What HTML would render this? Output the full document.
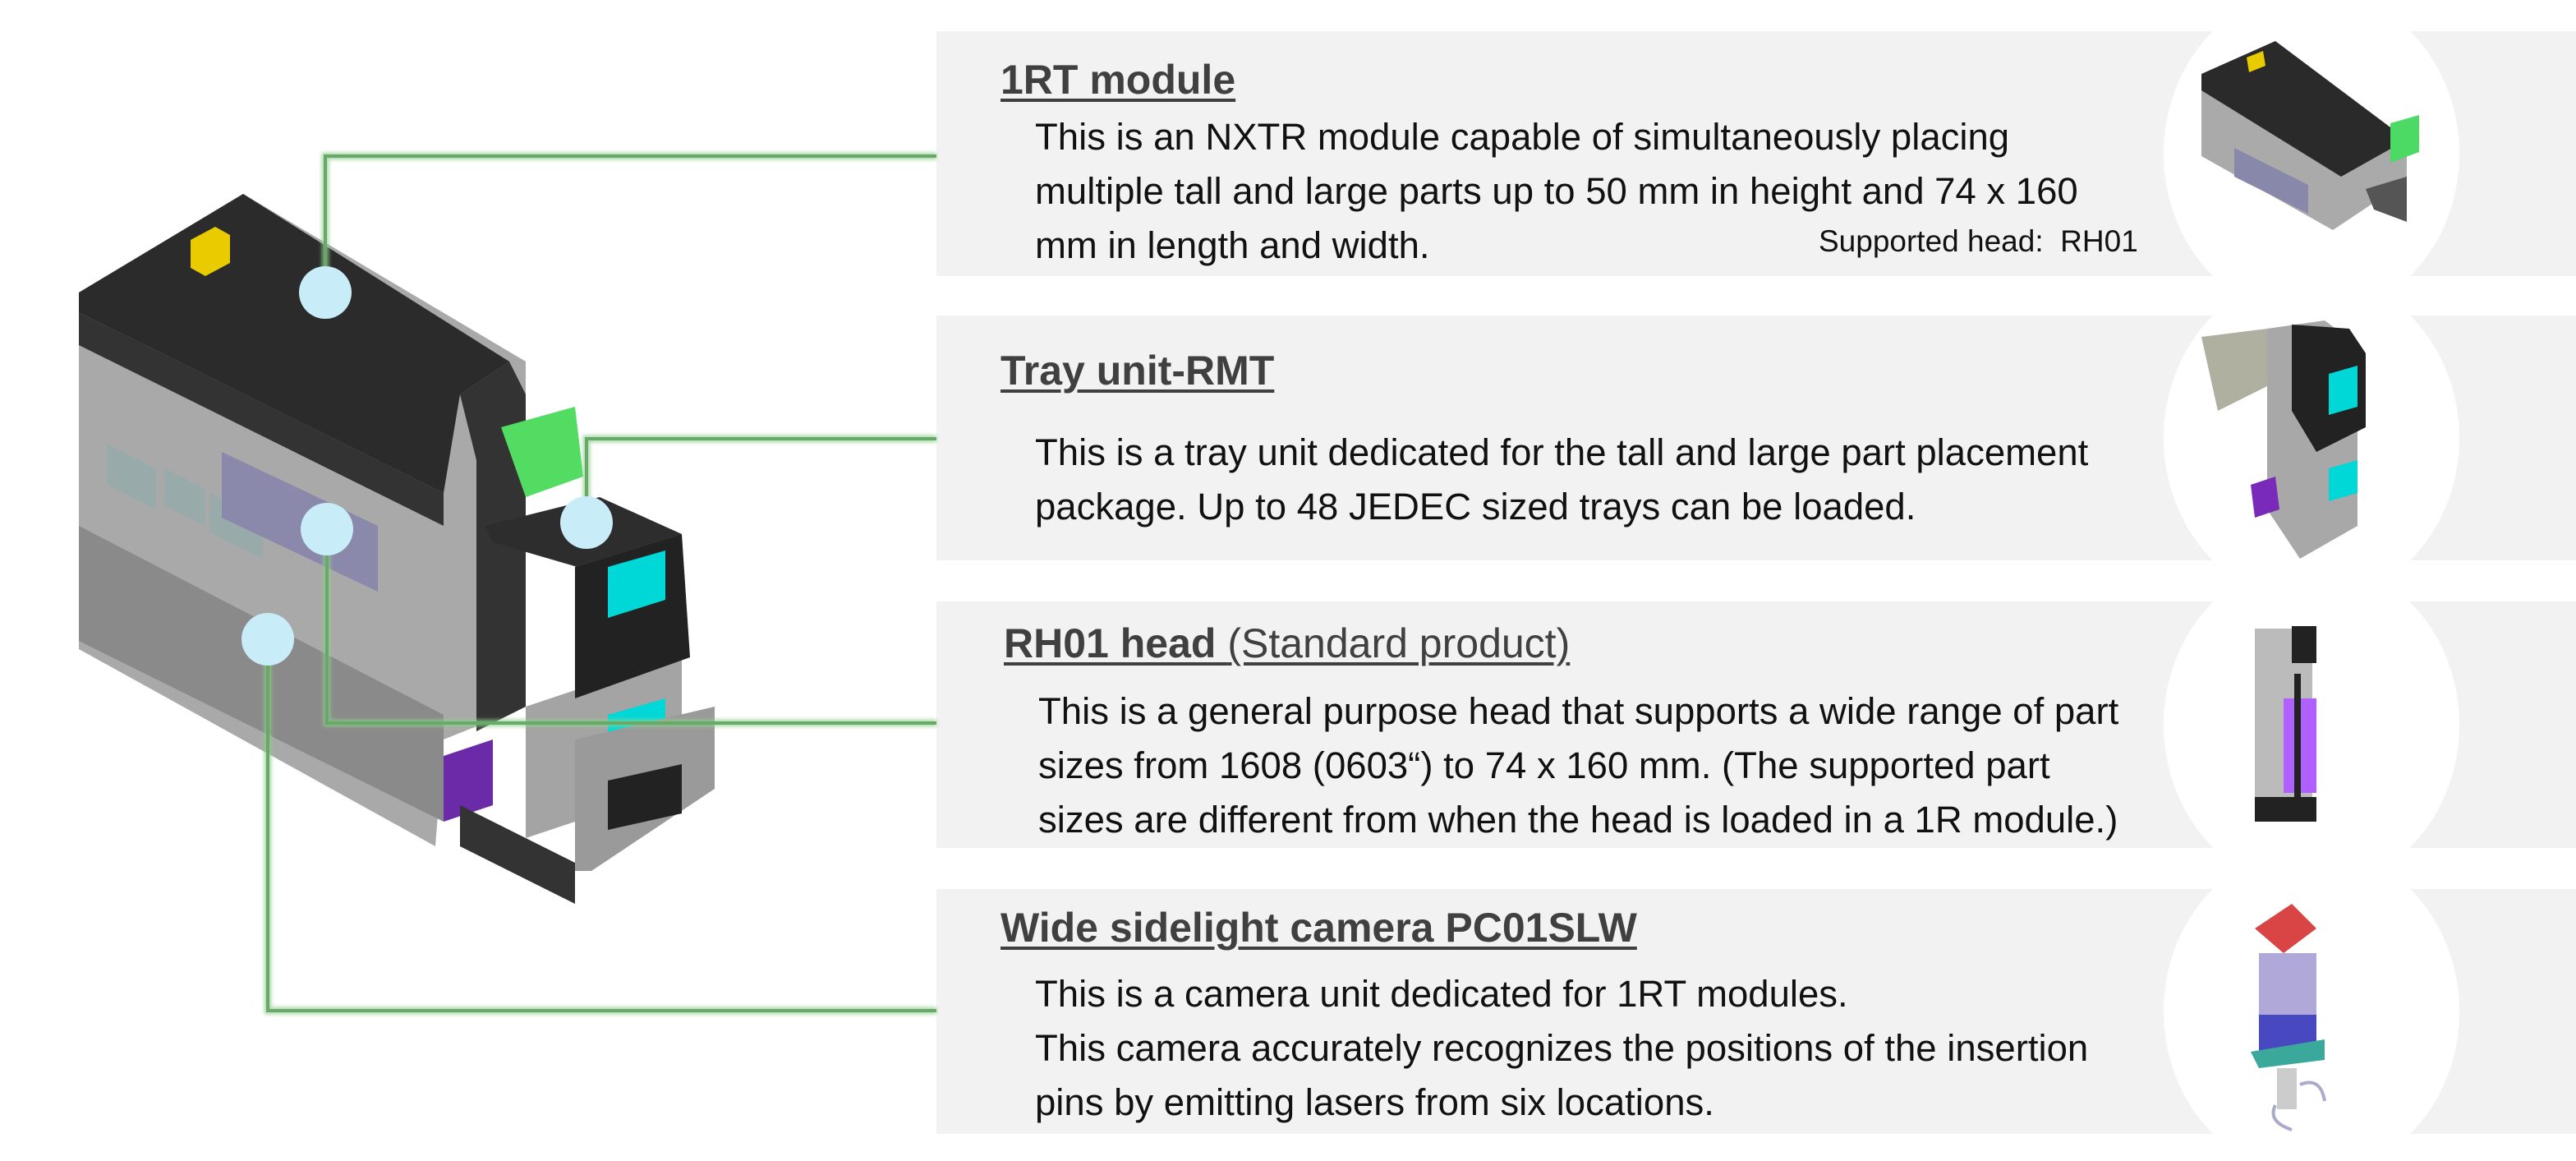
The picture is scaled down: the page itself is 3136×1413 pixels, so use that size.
<!DOCTYPE html>
<html><head><meta charset="utf-8"><style>
body{margin:0;width:3136px;height:1413px;background:#fff;position:relative;overflow:hidden;font-family:"Liberation Sans",Arial,sans-serif;}
.t{position:absolute;white-space:nowrap;}
.h{font-size:50px;font-weight:bold;color:#404040;text-decoration:underline;text-decoration-thickness:4px;text-underline-offset:6px;}
.h span{font-weight:normal;}
.b{font-size:45.5px;color:#111;line-height:66px;}
</style></head><body>
<svg width="3136" height="1413" viewBox="0 0 3136 1413" style="position:absolute;left:0;top:0">
<defs>
<filter id="gl" x="-5%" y="-5%" width="110%" height="110%"><feGaussianBlur stdDeviation="2"/></filter>
<clipPath id="c1"><rect x="1140" y="38" width="1996" height="298"/></clipPath>
<clipPath id="c2"><rect x="1140" y="384" width="1996" height="298"/></clipPath>
<clipPath id="c3"><rect x="1140" y="732" width="1996" height="300"/></clipPath>
<clipPath id="c4"><rect x="1140" y="1082" width="1996" height="298"/></clipPath>
</defs>
<rect x="1140" y="38" width="1996" height="298" fill="#f2f2f2"/>
<rect x="1140" y="384" width="1996" height="298" fill="#f2f2f2"/>
<rect x="1140" y="732" width="1996" height="300" fill="#f2f2f2"/>
<rect x="1140" y="1082" width="1996" height="298" fill="#f2f2f2"/>
<g fill="#fff">
<ellipse cx="2814" cy="187" rx="180" ry="200" clip-path="url(#c1)"/>
<ellipse cx="2814" cy="533" rx="180" ry="200" clip-path="url(#c2)"/>
<ellipse cx="2814" cy="882" rx="180" ry="200" clip-path="url(#c3)"/>
<ellipse cx="2814" cy="1231" rx="180" ry="200" clip-path="url(#c4)"/>
</g>
<polygon points="2680,90 2770,50 2930,170 2930,220 2840,280 2680,190" fill="#aaa"/>
<polygon points="2680,90 2770,50 2930,170 2850,215 2680,110" fill="#2a2a2a"/>
<polygon points="2735,70 2755,62 2758,80 2738,88" fill="#e8cc00"/>
<polygon points="2910,150 2945,140 2945,185 2910,198" fill="#4cd964"/>
<polygon points="2720,180 2810,225 2810,260 2720,215" fill="#8888aa"/>
<polygon points="2880,230 2930,215 2930,270 2890,255" fill="#555"/>
<polygon points="2680,410 2760,400 2760,470 2700,500" fill="#b0b0a0"/>
<polygon points="2760,400 2830,390 2870,420 2870,640 2800,680 2760,620" fill="#a8a8a8"/>
<polygon points="2790,395 2860,400 2880,430 2880,520 2820,550 2790,500" fill="#222"/>
<polygon points="2835,455 2870,445 2870,495 2835,505" fill="#00d8d8"/>
<polygon points="2835,570 2870,560 2870,600 2835,610" fill="#00d8d8"/>
<polygon points="2740,590 2770,580 2775,620 2745,630" fill="#7a2ab8"/>
<rect x="2745" y="765" width="70" height="235" fill="#bbb"/>
<rect x="2790" y="762" width="30" height="45" fill="#222"/>
<rect x="2780" y="850" width="40" height="115" fill="#b060ff"/>
<rect x="2793" y="820" width="8" height="170" fill="#222"/>
<rect x="2745" y="970" width="75" height="30" fill="#222"/>
<polygon points="2745,1130 2790,1100 2820,1130 2780,1160" fill="#d94444"/>
<rect x="2750" y="1160" width="70" height="115" fill="#b0a8d8"/>
<rect x="2750" y="1235" width="70" height="55" fill="#4848c0"/>
<polygon points="2740,1280 2830,1265 2830,1290 2750,1300" fill="#3aa89a"/>
<rect x="2772" y="1300" width="24" height="50" fill="#ccc"/>
<path d="M2800 1320 q25 -10 30 20" stroke="#aac" stroke-width="4" fill="none"/>
<path d="M2770 1345 q-10 20 20 30" stroke="#aac" stroke-width="4" fill="none"/>

<!-- main machine -->
<polygon points="96,356 296,236 640,440 640,860 540,900 530,1030 96,790" fill="#a9a9a9"/>
<polygon points="96,356 296,236 620,440 560,480 540,600 96,380" fill="#2b2b2b"/>
<polygon points="96,380 540,600 540,640 96,420" fill="#333"/>
<polygon points="96,640 540,870 540,1000 96,780" fill="#8a8a8a"/>
<polygon points="232,292 262,276 280,286 280,320 250,336 232,326" fill="#e8cc00"/>
<polygon points="130,540 190,570 190,620 130,590" fill="#9aa"/>
<polygon points="200,570 250,595 250,640 200,615" fill="#9aa"/>
<polygon points="255,600 320,632 320,680 255,648" fill="#9aa"/>
<polygon points="270,550 460,640 460,720 270,630" fill="#8a88ab"/>
<polygon points="560,480 620,440 640,480 640,860 580,890 580,560" fill="#333"/>
<polygon points="610,520 700,495 710,580 640,605" fill="#52dc62"/>
<polygon points="590,640 730,605 830,650 720,695 600,660" fill="#2d2d2d"/>
<polygon points="700,690 830,650 830,880 700,930" fill="#a4a4a4"/>
<polygon points="700,690 830,650 840,800 700,850" fill="#222"/>
<polygon points="740,690 810,670 810,730 740,752" fill="#00d8d8"/>
<polygon points="740,870 810,850 810,900 740,920" fill="#00d8d8"/>
<polygon points="640,860 700,840 700,1000 640,1020" fill="#a4a4a4"/>
<polygon points="700,900 870,860 870,960 720,1060 700,1060" fill="#9a9a9a"/>
<polygon points="740,950 830,930 830,990 740,1010" fill="#222"/>
<polygon points="540,920 600,900 600,980 540,1000" fill="#6b2aa8"/>
<polygon points="560,980 700,1050 700,1100 560,1030" fill="#333"/>
<g stroke="#8ccf8c" stroke-width="9" fill="none" filter="url(#gl)" opacity="0.7">
<path d="M396 356 V190 H1140"/><path d="M714 636 V534 H1140"/>
<path d="M398 644 V880 H1140"/><path d="M326 778 V1230 H1140"/>
</g>
<g stroke="#6aa86a" stroke-width="4" fill="none">
<path d="M396 356 V190 H1140"/><path d="M714 636 V534 H1140"/>
<path d="M398 644 V880 H1140"/><path d="M326 778 V1230 H1140"/>
</g>
<g fill="#c8ecf8">
<circle cx="396" cy="356" r="32"/><circle cx="714" cy="636" r="32"/>
<circle cx="398" cy="644" r="32"/><circle cx="326" cy="778" r="32"/>
</g>
</svg>

<div class="t h" style="left:1218px;top:68px">1RT module</div>
<div class="t b" style="left:1260px;top:134px">This is an NXTR module capable of simultaneously placing<br>multiple tall and large parts up to 50 mm in height and 74 x 160<br>mm in length and width.</div>
<div class="t" style="left:2214px;top:273px;font-size:37px;color:#111">Supported head:&nbsp; RH01</div>

<div class="t h" style="left:1218px;top:422px">Tray unit-RMT</div>
<div class="t b" style="left:1260px;top:518px">This is a tray unit dedicated for the tall and large part placement<br>package. Up to 48 JEDEC sized trays can be loaded.</div>

<div class="t h" style="left:1222px;top:754px">RH01 head <span>(Standard product)</span></div>
<div class="t b" style="left:1264px;top:833px">This is a general purpose head that supports a wide range of part<br>sizes from 1608 (0603“) to 74 x 160 mm. (The supported part<br>sizes are different from when the head is loaded in a 1R module.)</div>

<div class="t h" style="left:1218px;top:1100px">Wide sidelight camera PC01SLW</div>
<div class="t b" style="left:1260px;top:1177px">This is a camera unit dedicated for 1RT modules.<br>This camera accurately recognizes the positions of the insertion<br>pins by emitting lasers from six locations.</div>
</body></html>
